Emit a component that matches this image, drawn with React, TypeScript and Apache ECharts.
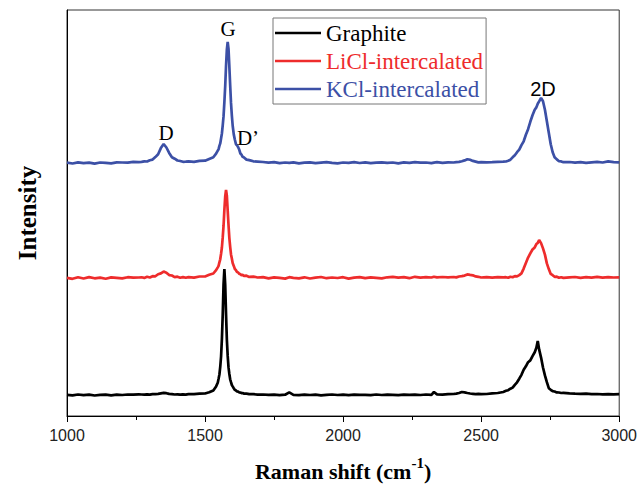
import React, { useEffect, useRef } from "react";
import * as echarts from "echarts";

// Raman shift grid (cm-1)
const wavenumber = [
  1000, 1020, 1040, 1060, 1080, 1100, 1120, 1140, 1160, 1180, 1200, 1220, 1240, 1260,
  1270, 1280, 1290, 1300, 1310, 1320, 1330, 1340, 1350, 1360, 1370, 1380, 1390, 1400, 1410, 1420, 1430,
  1440, 1460, 1480, 1500, 1515, 1530, 1540,
  1546, 1549, 1552, 1555, 1558, 1561, 1564, 1567, 1570, 1573, 1576, 1579, 1582, 1585, 1588, 1591, 1594, 1597, 1600,
  1604, 1608, 1612, 1616, 1620, 1624, 1628, 1632, 1636, 1640, 1650, 1660, 1675, 1690,
  1710, 1730, 1750, 1770, 1790, 1805, 1820, 1840, 1860, 1880, 1900, 1920, 1940, 1960, 1980, 2000, 2020, 2040,
  2060, 2080, 2100, 2120, 2140, 2160, 2180, 2200, 2220, 2240, 2260, 2280, 2300, 2320, 2329, 2340, 2360, 2380,
  2400, 2410, 2420, 2430, 2440, 2450, 2460, 2470, 2480, 2490, 2500,
  2520, 2540, 2560, 2580,
  2590, 2598, 2606, 2614, 2622, 2630, 2638, 2646, 2654, 2662, 2670, 2678, 2686, 2694, 2700, 2705, 2710, 2717,
  2724, 2731, 2738, 2745, 2752, 2759, 2766, 2774, 2782, 2790, 2798,
  2820, 2840, 2860, 2880, 2900, 2920, 2940, 2960, 2980, 3000,
];

// Intensities (arbitrary units) above each spectrum's own baseline
const graphite = [
  0.2, -0.4, 0.5, -0.1, 0.3, -0.5, 0.2, 0.4, -0.3, 0.3, 0.0, 0.5, 0.3, 0.6,
  0.5, 0.3, 0.7, 0.4, 0.9, 0.8, 1.2, 1.7, 2.2, 1.8, 1.1, 0.9, 0.5, 0.7, 0.3, 0.6, 0.4,
  0.9, 0.8, 1.3, 1.5, 2.7, 4.6, 8.6,
  12.3, 16.2, 20.5, 28.1, 38.5, 55.9, 80.2, 110.8, 126.0, 110.2, 80.9, 55.3, 39.1, 27.6, 21.0, 15.7, 12.8, 10.0, 8.6,
  6.8, 5.1, 4.5, 3.5, 3.3, 2.5, 2.4, 1.9, 1.9, 1.4, 1.3, 0.8, 0.8, 0.4,
  0.5, 0.1, 0.4, -0.2, 0.3, 2.6, 0.2, -0.1, 0.4, 0.0, 0.3, -0.3, 0.2, 0.5, 0.0, 0.3, -0.2, 0.4,
  0.1, 0.2, -0.1, 0.5, 0.0, 0.3, 0.2, -0.2, 0.4, 0.1, 0.3, 0.0, 0.5, 0.2, 3.0, 0.6, 0.4, 0.8,
  1.0, 1.4, 2.0, 3.0, 2.6, 2.0, 1.5, 1.2, 0.9, 1.1, 0.8,
  1.0, 1.6, 2.0, 3.0,
  4.2, 4.8, 6.3, 7.4, 10.2, 12.7, 16.3, 20.2, 25.3, 28.7, 32.8, 34.6, 38.9, 42.7, 47.3, 54.0, 45.6, 37.4,
  27.5, 19.6, 12.8, 6.8, 5.2, 3.8, 3.5, 2.6, 2.5, 2.0, 2.1,
  1.6, 1.3, 1.1, 1.3, 0.9, 1.0, 0.7, 0.9, 0.6, 0.8,
];

const liclIntercalated = [
  0.2, -0.8, 0.7, -0.5, 0.9, -0.3, 0.4, -0.7, 0.6, 0.1, -0.4, 0.8, 0.3, 0.5,
  0.7, 0.1, 1.2, 0.5, 1.8, 1.7, 3.8, 4.6, 6.4, 5.3, 2.9, 2.5, 0.9, 1.3, 0.3, 0.9, 0.2,
  0.9, 0.4, 1.5, 1.5, 3.2, 4.5, 7.8,
  10.7, 12.2, 15.6, 18.7, 24.2, 30.5, 40.6, 52.3, 68.1, 81.5, 88.0, 82.3, 67.4, 53.0, 39.8, 31.2, 23.6, 19.4, 15.0,
  12.1, 9.0, 7.8, 5.9, 5.5, 4.1, 3.9, 2.8, 3.1, 2.2, 2.3, 1.1, 1.4, 0.5,
  0.9, -0.4, 0.6, 0.1, -0.6, 0.8, 0.2, -0.3, 0.7, -0.5, 0.4, 1.0, -0.2, 0.5, 0.0, 0.8, -0.6, 0.3,
  0.9, -0.1, 0.6, 0.2, -0.4, 0.7, 1.1, 0.3, 0.8, -0.2, 1.2, 0.4, 0.9, 0.5, 1.3, 0.6, 1.0, 0.7,
  1.0, 0.6, 1.5, 1.9, 2.4, 3.6, 3.1, 2.7, 1.6, 1.2, 0.5,
  0.8, 0.3, 0.9, 0.6,
  0.8, 0.2, 1.3, 0.7, 1.9, 1.6, 2.9, 4.6, 9.4, 15.1, 20.4, 24.6, 28.5, 30.6, 33.9, 35.1, 38.0, 34.9,
  29.6, 23.4, 14.6, 8.9, 4.1, 2.8, 1.2, 1.3, 0.2, 0.8, 0.1,
  0.6, 1.0, 0.2, 0.8, 0.4, 1.1, 0.3, 0.9, 0.5, 0.7,
];

const kclIntercalated = [
  0.3, -0.5, 0.6, -0.2, 0.4, -0.6, 0.5, 0.1, -0.3, 0.6, 0.5, 0.4, 1.2, 0.8,
  1.1, 1.6, 1.5, 2.8, 3.4, 5.9, 8.7, 14.9, 19.0, 15.5, 10.1, 5.8, 4.3, 2.5, 2.0, 1.2, 1.3,
  1.6, 1.2, 2.1, 2.3, 4.1, 5.8, 9.4,
  12.4, 13.8, 17.1, 19.6, 24.5, 29.5, 37.6, 46.8, 60.9, 77.0, 97.2, 113.5, 121.0, 114.2, 96.4, 77.8, 60.1, 47.6, 37.5,
  28.6, 23.3, 18.7, 17.6, 15.8, 13.2, 9.5, 8.3, 6.2, 5.7, 3.4, 2.9, 1.7, 1.4,
  1.0, 0.3, 0.8, -0.2, 0.5, 0.1, 0.6, -0.4, 0.3, 0.7, -0.1, 0.4, 0.9, 0.2, -0.3, 0.5, 0.1, 0.8,
  0.0, 0.6, -0.2, 0.4, 0.7, 0.1, 0.5, -0.3, 0.6, 0.2, 0.9, 0.3, 0.5, -0.1, 0.4, 0.8, 0.2, 0.6,
  0.5, 0.9, 1.1, 1.8, 2.6, 3.8, 3.2, 2.1, 1.4, 0.6, 0.8,
  0.7, 0.9, 1.2, 1.3,
  1.5, 2.2, 3.3, 5.7, 7.8, 10.8, 13.3, 17.8, 21.7, 28.3, 33.8, 41.2, 47.7, 53.3, 55.6, 59.3, 61.6, 65.0,
  61.8, 53.2, 41.7, 30.3, 18.8, 10.7, 5.8, 3.6, 1.8, 1.6, 0.8,
  1.0, 0.4, 0.9, 0.2, 0.7, 1.1, 0.5, 1.6, 0.9, 0.6,
];

// vertical stacking offsets of the three spectra
const offsets = [21, 138, 253];
const seriesNames = ["Graphite", "LiCl-intercalated", "KCl-intercalated"];
const seriesValues = [graphite, liclIntercalated, kclIntercalated];
const seriesColors = ["#000000", "#ee2c2c", "#3c50a6"];

const xMin = 1000;
const xMax = 3000;
const xInterval = 500;
const yMin = 0;
const yMax = 406;

const SERIF = '"Liberation Serif", "Times New Roman", serif';
const SANS = '"Liberation Sans", Arial, sans-serif';

export default function App() {
  const ref = useRef<HTMLDivElement>(null);

  useEffect(() => {
    if (!ref.current) return;
    const chart = echarts.init(ref.current, undefined, { renderer: "svg" });

    const series = seriesNames.map((name, s) => ({
      name,
      type: "line" as const,
      showSymbol: false,
      symbol: "none",
      data: wavenumber.map((x, i) => [x, seriesValues[s][i] + offsets[s]]),
      lineStyle: { color: seriesColors[s], width: 2.7 },
      itemStyle: { color: seriesColors[s] },
      z: 2 + s,
    }));

    chart.setOption({
      animation: false,
      backgroundColor: "#ffffff",
      grid: {
        left: 67,
        right: 19,
        top: 10,
        bottom: 76,
        show: true,
        borderColor: "#333",
        borderWidth: 1,
        backgroundColor: "transparent",
      },
      legend: {
        orient: "vertical",
        left: 273,
        top: 18,
        icon: "rect",
        itemWidth: 46,
        itemHeight: 2.5,
        itemGap: 0,
        padding: [1, 3, 1, 2],
        borderColor: "#777",
        borderWidth: 1,
        backgroundColor: "#ffffff",
        selectedMode: false,
        data: seriesNames.map((n, i) => ({
          name: n,
          textStyle: { color: seriesColors[i] },
        })),
        textStyle: {
          fontFamily: SERIF,
          fontSize: 23,
          lineHeight: 28,
        },
      },
      xAxis: {
        type: "value",
        min: xMin,
        max: xMax,
        interval: xInterval,
        axisLine: { show: true, lineStyle: { color: "#000", width: 1 } },
        axisTick: { show: true, inside: false, length: 6, lineStyle: { color: "#000" } },
        minorTick: { show: true, splitNumber: 2, length: 4, lineStyle: { color: "#000" } },
        splitLine: { show: false },
        minorSplitLine: { show: false },
        axisLabel: {
          fontFamily: SANS,
          fontSize: 16,
          color: "#222",
          margin: 11,
          formatter: (v: number) => String(v),
        },
        name: "{t|Raman shift (cm}{s|-1}{t|)}",
        nameLocation: "middle",
        nameGap: 39,
        nameTextStyle: {
          rich: {
            t: { fontFamily: SERIF, fontWeight: "bold", fontSize: 22, color: "#000", lineHeight: 27, verticalAlign: "bottom" },
            s: { fontFamily: SERIF, fontWeight: "bold", fontSize: 15, color: "#000", lineHeight: 27, verticalAlign: "top" },
          },
        },
      },
      yAxis: {
        type: "value",
        min: yMin,
        max: yMax,
        axisLine: { show: true, lineStyle: { color: "#000", width: 1 } },
        axisTick: { show: false },
        axisLabel: { show: false },
        splitLine: { show: false },
        name: "Intensity",
        nameLocation: "middle",
        nameGap: 27,
        nameRotate: 90,
        nameTextStyle: { fontFamily: SERIF, fontWeight: "bold", fontSize: 25, color: "#000" },
      },
      graphic: [
        { type: "text", x: 228, y: 29, z: 10, style: { text: "G", font: `21px ${SERIF}`, fill: "#000", align: "center", verticalAlign: "middle" } },
        { type: "text", x: 166, y: 133, z: 10, style: { text: "D", font: `21px ${SERIF}`, fill: "#000", align: "center", verticalAlign: "middle" } },
        { type: "text", x: 248, y: 138, z: 10, style: { text: "D\u2019", font: `21px ${SERIF}`, fill: "#000", align: "center", verticalAlign: "middle" } },
        { type: "text", x: 543, y: 89, z: 10, style: { text: "2D", font: `20px ${SANS}`, fill: "#000", align: "center", verticalAlign: "middle" } },
      ],
      series,
    });

    return () => chart.dispose();
  }, []);

  return (
    <div
      ref={ref}
      style={{ position: "absolute", left: 0, top: 0, width: 640, height: 492, background: "#fff" }}
    />
  );
}
